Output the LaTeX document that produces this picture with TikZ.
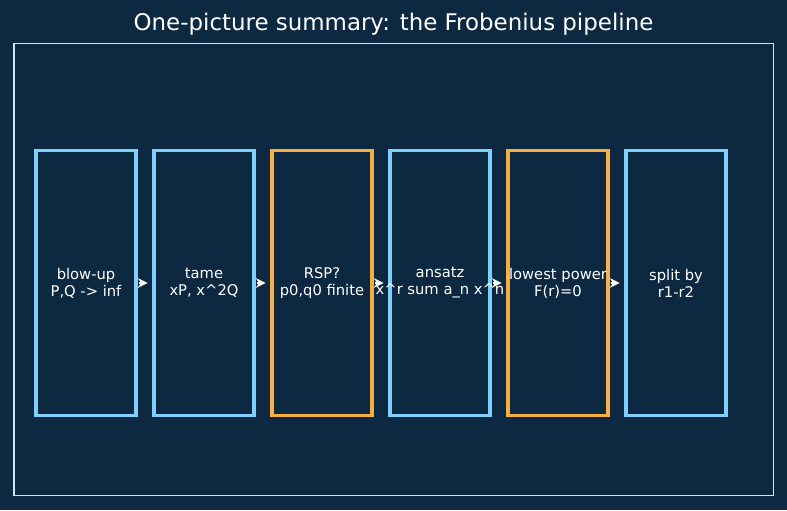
\documentclass[tikz,border=0pt]{standalone}
\usepackage{fontspec}
\setmainfont{DejaVu Sans}
\usepackage{tikz}
\usetikzlibrary{positioning, arrows.meta}

\definecolor{bgnavy}{HTML}{0C2941}
\definecolor{skyline}{HTML}{7FCFFF}
\definecolor{ambline}{HTML}{F5B041}
\definecolor{framegray}{HTML}{D0E2EE}

\begin{document}
\begin{tikzpicture}[x=0.72pt, y=-0.72pt,
  stage/.style={draw=skyline, line width=2.2pt, fill=bgnavy, minimum width=72pt,
    minimum height=190.5pt, inner sep=0pt, align=center, text=white, font=\fontsize{10.6}{12.2}\selectfont},
  check/.style={stage, draw=ambline},
  flow/.style={-{Stealth[length=7pt,width=7pt]}, white, line width=1.1pt, shorten <=1pt, shorten >=3.5pt}]
  % Background and frame
  \fill[bgnavy] (0,0) rectangle (787,510);
  \draw[framegray, line width=1.2pt] (14,43.5) rectangle (773.5,495.5);

  % Title
  \node[text=white, font=\fontsize{16.5}{18}\selectfont] (title) at (393.5,24.5) {One-picture summary: the Frobenius pipeline};

  % Stages
  \node[stage] (blowup) at (86,283) {blow-up\\P,Q -> inf};
  \node[stage] (tame) at (204,283) {tame\\xP, x\^{}2Q};
  \node[check] (rsp) at (322,283) {RSP?\\p0,q0 finite};
  \node[stage] (ansatz) at (440,283) {ansatz\\\makebox[0pt]{x\^{}r sum a\_n x\^{}n}};
  \node[check] (lowest) at (558,283) {\makebox[0pt]{lowest power}\\F(r)=0};
  \node[stage] (split) at (676,283) {split by\\r1-r2};

  % Arrows
  \draw[flow] (blowup) -- (tame);
  \draw[flow] (tame) -- (rsp);
  \draw[flow] (rsp) -- (ansatz);
  \draw[flow] (ansatz) -- (lowest);
  \draw[flow] (lowest) -- (split);
\end{tikzpicture}
\end{document}
